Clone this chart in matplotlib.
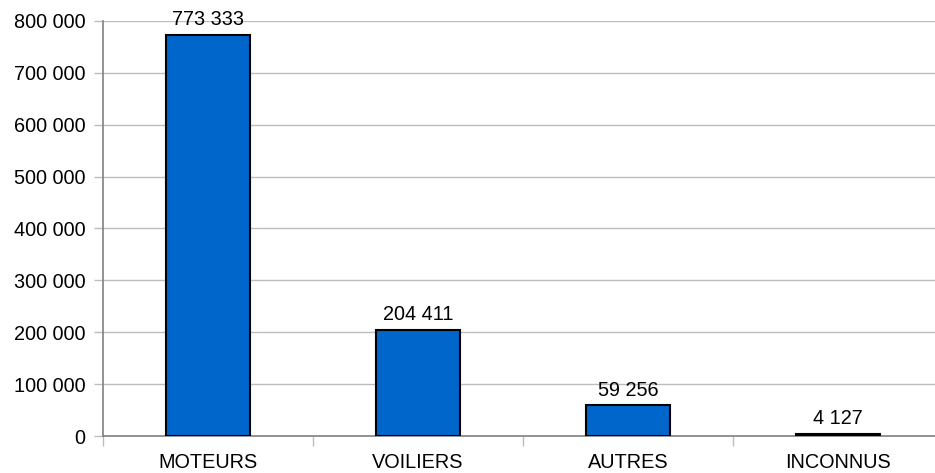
import matplotlib
matplotlib.use("Agg")
import matplotlib.pyplot as plt
from matplotlib.ticker import FuncFormatter, MultipleLocator, FixedLocator

categories = ["MOTEURS", "VOILIERS", "AUTRES", "INCONNUS"]
values = [773333, 204411, 59256, 4127]


def fr_thousands(v, pos=None):
    return "{:,}".format(int(v)).replace(",", " ")


plt.rcParams["font.family"] = ["Liberation Sans", "DejaVu Sans"]
plt.rcParams["font.size"] = 14.3

fig = plt.figure(figsize=(9.35, 4.73), dpi=100)
ax = fig.add_axes([103 / 935, 37 / 473, 840 / 935, 415 / 473])

x = list(range(len(categories)))
ax.bar(x, values, width=0.4, color="#0066cc", edgecolor="black",
       linewidth=1.5, zorder=3)

for xi, v in zip(x, values):
    ax.annotate(fr_thousands(v), (xi, v), xytext=(0, 7), textcoords="offset points",
                ha="center", va="baseline", zorder=4)

ax.set_xlim(-0.5, len(categories) - 0.5)
ax.set_ylim(0, 800000)
ax.yaxis.set_major_locator(MultipleLocator(100000))
ax.yaxis.set_major_formatter(FuncFormatter(fr_thousands))
ax.grid(axis="y", color="#bdbdbd", linewidth=1, zorder=0)

ax.set_xticks(x)
ax.set_xticklabels(categories)
ax.xaxis.set_minor_locator(FixedLocator([i - 0.5 for i in range(len(categories) + 1)]))
ax.tick_params(axis="x", which="major", length=0, pad=12)
ax.tick_params(axis="x", which="minor", length=7, color="#bdbdbd", width=1)
ax.tick_params(axis="y", length=6.5, color="#bdbdbd", width=1, pad=6)

for side in ["top", "right"]:
    ax.spines[side].set_visible(False)
for side in ["left", "bottom"]:
    ax.spines[side].set_color("#808080")
    ax.spines[side].set_linewidth(1.2)

fig.savefig("out.png", dpi=100)
